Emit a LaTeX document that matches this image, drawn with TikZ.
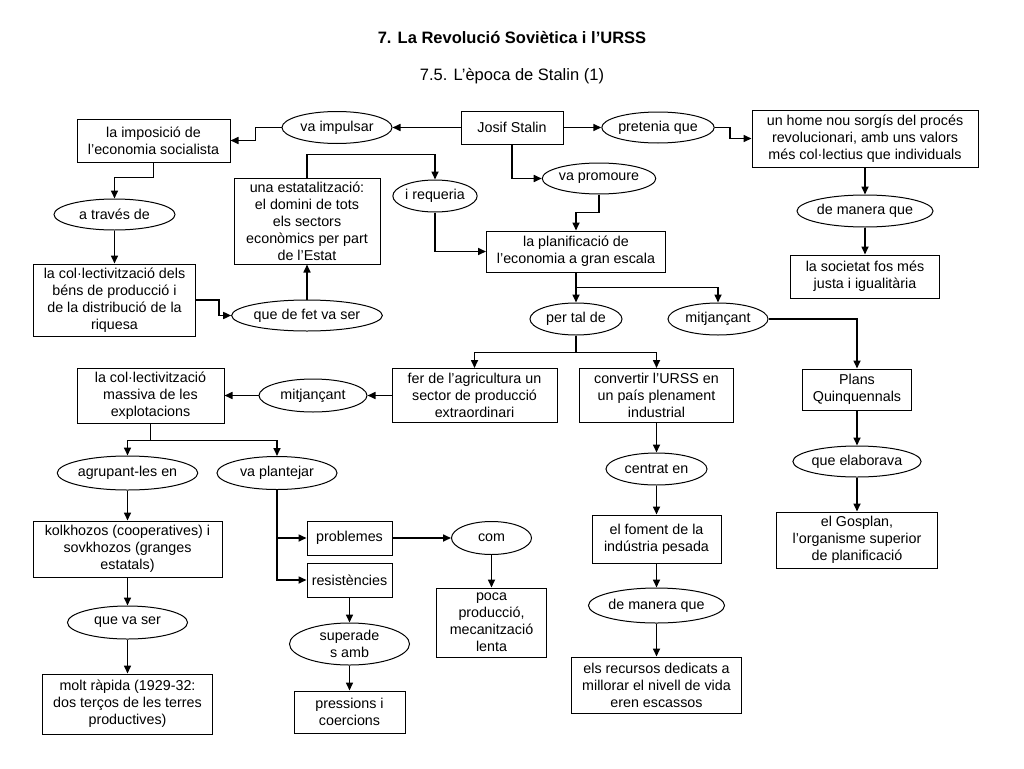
\documentclass[tikz,border=0pt]{standalone}
\usepackage{fontspec}
\setmainfont{Liberation Sans}
\usetikzlibrary{shapes.geometric,arrows.meta}

\tikzset{
	concept/.style={draw,rectangle,align=center,inner sep=0pt,line width=1pt},
	link/.style={draw,ellipse,align=center,inner sep=0pt,line width=1pt},
	wh/.style 2 args={minimum width=#1pt,minimum height=#2pt},
	heading/.style={font=\fontsize{16.5}{20}\selectfont}
}

\begin{document}
\begin{tikzpicture}[x=1pt,y=-1pt,>={Triangle[length=8pt,width=7pt]},line width=1.6pt,font=\fontsize{14.3}{17}\selectfont]
	\useasboundingbox (0,0) rectangle (1024,768);
	\node[heading] 			(title) at (512,38) {\bfseries 7. La Revolució Soviètica i l’URSS};
	\node[heading] 			(subtitle) at (512,76) {7.5. L’època de Stalin (1)};
	\node[concept,wh={102}{33}] 	(stalin) at (512,127.5) {Josif Stalin};
	\node[link,wh={110}{32}] 	(impulsar) at (337,127.5) {va impulsar};
	\node[concept,wh={153}{43}] 	(imposicio) at (153.5,140.5) {la imposició de\\l’economia socialista};
	\node[link,wh={104}{31}] 	(pretenia) at (658,127.5) {pretenia que};
	\node[concept,wh={226}{57}] 	(home) at (865,138.5) {un home nou sorgís del procés\\revolucionari, amb uns valors\\més col·lectius que individuals};
	\node[link,wh={108}{31}] 	(promoure) at (599,178.5) {va promoure};
	\node[concept,wh={179}{41}] 	(planif) at (576,251.5) {la planificació de\\l’economia a gran escala};
	\node[concept,wh={146}{86}] 	(estatal) at (307,221) {una estatalització:\\el domini de tots\\els sectors\\econòmics per part\\de l’Estat};
	\node[link,wh={83}{32}] 	(requeria) at (435,196) {i requeria};
	\node[link,wh={121}{31}] 	(traves) at (114.5,214.5) {a través de};
	\node[concept,wh={162}{72}] 	(colbens) at (114.5,300) {la col·lectivització dels\\béns de producció i\\de la distribució de la\\riquesa};
	\node[link,wh={135}{31}] 	(defet) at (307,315.5) {que de fet va ser};
	\node[link,wh={124}{32}] 	(manera) at (865,211) {de manera que};
	\node[concept,wh={149}{43}] 	(societat) at (865,276.5) {la societat fos més\\justa i igualitària};
	\node[link,wh={92}{32}] 	(pertal) at (576,319) {per tal de};
	\node[link,wh={100}{32}] 	(mitjan) at (718,319) {mitjançant};
	\node[concept,wh={109}{41}] 	(plans) at (857,389.5) {Plans\\Quinquennals};
	\node[link,wh={113}{31}] 	(elaborava) at (857,461.5) {que elaborava};
	\node[concept,wh={161}{56}] 	(gosplan) at (857,540) {el Gosplan,\\l’organisme superior\\de planificació};
	\node[concept,wh={165}{54}] 	(agricul) at (474.5,395.5) {fer de l’agricultura un\\sector de producció\\extraordinari};
	\node[concept,wh={154}{54}] 	(industria) at (656.5,395.5) {convertir l’URSS en\\un país plenament\\industrial};
	\node[link,wh={108}{33}] 	(mitjanb) at (313,395.5) {mitjançant};
	\node[concept,wh={147}{55}] 	(massiva) at (150.5,395.5) {la col·lectivització\\massiva de les\\explotacions};
	\node[link,wh={120}{34}] 	(agrupant) at (127.5,473) {agrupant-les en};
	\node[link,wh={120}{33}] 	(plantejar) at (277,473) {va plantejar};
	\node[concept,wh={189}{56}] 	(kolkhozos) at (127.5,549) {kolkhozos (cooperatives) i\\sovkhozos (granges\\estatals)};
	\node[link,wh={120}{33}] 	(vaser) at (127.5,622.5) {que va ser};
	\node[concept,wh={170}{60}] 	(rapida) at (127.5,704) {molt ràpida (1929-32:\\dos terços de les terres\\productives)};
	\node[concept,wh={85}{34}] 	(problemes) at (349.5,538) {problemes};
	\node[concept,wh={85}{34}] 	(resist) at (349.5,580) {resistències};
	\node[link,wh={80}{33}] 	(com) at (491.5,538) {com};
	\node[concept,wh={110}{69}] 	(poca) at (491.5,622.5) {poca\\producció,\\mecanització\\lenta};
	\node[link,wh={120}{42}] 	(superades) at (349.5,644) {superade\\s amb};
	\node[concept,wh={111}{42}] 	(pressions) at (349.5,712) {pressions i\\coercions};
	\node[link,wh={101}{32}] 	(centrat) at (656.5,469) {centrat en};
	\node[concept,wh={129}{48}] 	(foment) at (656.5,539) {el foment de la\\indústria pesada};
	\node[link,wh={120}{35}] 	(manerab) at (656.5,605.5) {de manera que};
	\node[concept,wh={170}{56}] 	(recursos) at (656.5,685) {els recursos dedicats a\\millorar el nivell de vida\\eren escassos};
	\draw[->] (stalin.west) -- (impulsar.east);
	\draw[->] (impulsar.west) -- ++(-26,0) |- (imposicio.east);
	\draw[->] (stalin.east) -- (pretenia.west);
	\draw[->] (pretenia.east) -- ++(15,0) |- (home.west);
	\draw[->] (stalin.south) |- (promoure.west);
	\draw[->] (promoure.south) -- ++(0,18) -| (planif.north);
	\draw[->] (estatal.north) -- ++(0,-23) -| (requeria.north);
	\draw[->] (requeria.south) |- (planif.west);
	\draw[->] (imposicio.south) -- ++(0,15) -| (traves.north);
	\draw[->] (traves) -- (colbens);
	\draw[->] (colbens.east) -- ++(23,0) |- (defet.west);
	\draw[->] (defet) -- (estatal);
	\draw[->] (home) -- (manera);
	\draw[->] (manera) -- (societat);
	\draw[->] (planif) -- (pertal);
	\draw[->] (planif.south) -- ++(0,15) -| (mitjan.north);
	\draw[->] (mitjan.east) -| (plans.north);
	\draw[->] (plans) -- (elaborava);
	\draw[->] (elaborava) -- (gosplan);
	\draw[->] (pertal.south) -- ++(0,17) -| (agricul.north);
	\draw[->] (pertal.south) -- ++(0,17) -| (industria.north);
	\draw[->] (agricul) -- (mitjanb);
	\draw[->] (mitjanb) -- (massiva);
	\draw[->] (massiva.south) -- ++(0,17) -| (agrupant.north);
	\draw[->] (massiva.south) -- ++(0,17) -| (plantejar.north);
	\draw[->] (agrupant) -- (kolkhozos);
	\draw[->] (kolkhozos) -- (vaser);
	\draw[->] (vaser) -- (rapida);
	\draw[->] (plantejar.south) |- (problemes.west);
	\draw[->] (plantejar.south) |- (resist.west);
	\draw[->] (problemes) -- (com);
	\draw[->] (com) -- (poca);
	\draw[->] (resist) -- (superades);
	\draw[->] (superades) -- (pressions);
	\draw[->] (industria) -- (centrat);
	\draw[->] (centrat) -- (foment);
	\draw[->] (foment) -- (manerab);
	\draw[->] (manerab) -- (recursos);
\end{tikzpicture}
\end{document}
